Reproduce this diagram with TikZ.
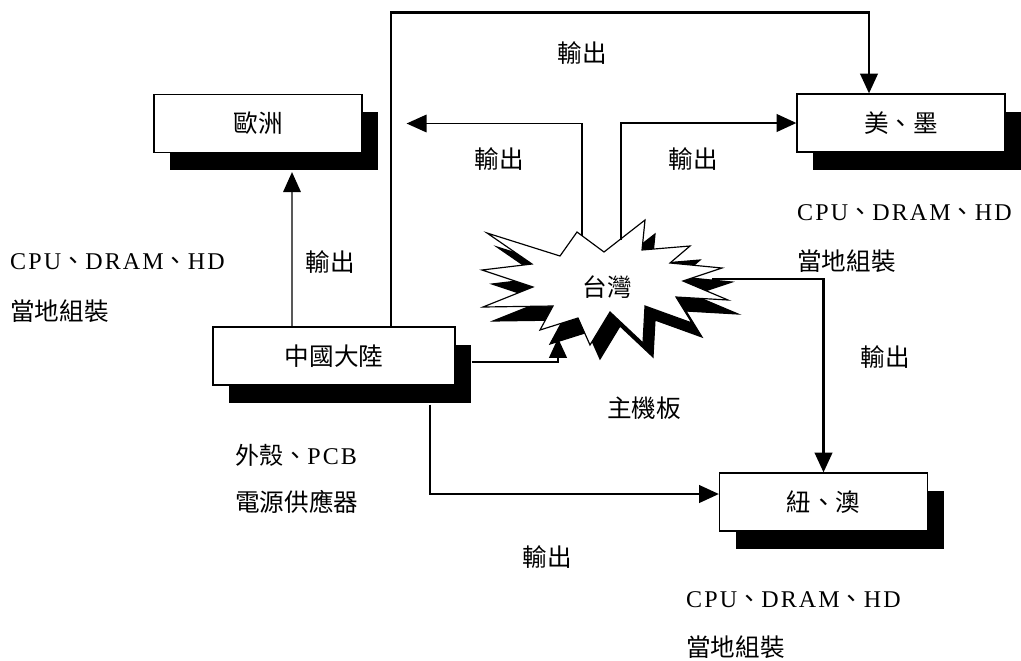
\documentclass[tikz,border=0pt]{standalone}
\usepackage{fontspec}
\setmainfont{Liberation Serif}
\newfontfamily\cjk{Noto Sans CJK TC}
\newfontfamily\latin[LetterSpace=9]{Liberation Serif}
\usetikzlibrary{arrows.meta,shadows}

\begin{document}
\begin{tikzpicture}[x=0.03cm,y=-0.03cm,>={Triangle[length=17pt,width=15pt]},
  region/.style={draw,line width=1pt,fill=white,minimum width=6.24cm,minimum height=1.74cm,
    inner sep=0pt,font=\cjk\fontsize{21}{25}\selectfont,
    drop shadow={shadow xshift=0.48cm,shadow yshift=-0.53cm,opacity=1,fill=black}},
  word/.style={font=\cjk\fontsize{21}{25}\selectfont,inner sep=0pt},
  note/.style={font=\latin\fontsize{20.5}{25}\selectfont,anchor=west,inner sep=0pt},
  thinflow/.style={->,line width=1.2pt},
  flow/.style={->,line width=2.2pt}]

\useasboundingbox (0,0) rectangle (1021,660);

% The regions
\node[region] (eu) at (258,123.5) {歐洲};
\node[region] (am) at (901,123) {美、墨};
\node[region,minimum width=7.26cm] (cn) at (334,356) {中國大陸};
\node[region] (nz) at (823.5,502) {紐、澳};

% The Taiwan burst
\foreach \dx/\dy/\col in {10/14/black,0/0/white}
{
	\filldraw[line width=1pt,fill=\col,shift={(\dx,\dy)}]
		(487,233) -- (560,256) -- (577,232) -- (604,252) -- (645,220) -- (642,250)
		-- (690,246) -- (670,263) -- (722,268) -- (683,281) -- (728,300) -- (676,297)
		-- (692,323) -- (645,306) -- (643,343) -- (610,312) -- (590,345) -- (578,318)
		-- (540,330) -- (553,306) -- (483,307) -- (533,287) -- (482,270) -- (532,264) -- cycle;
}
\node[word] (tw) at (607,287) {台灣};

\coordinate (twa) at (582,236);
\coordinate (twb) at (621,240);
\coordinate (twc) at (712,279);
\coordinate (twd) at (558,338);

% Exports from Taiwan
\draw[thinflow] (twa) |- ([xshift=1.32cm]eu.east);
\draw[flow] (twb) |- (am.west);
\draw[flow] (twc) -| (nz.north);

% Exports from China
\draw[thinflow] ([xshift=-1.26cm]cn.north) -- ([xshift=1.02cm,yshift=-0.57cm]eu.south);
\draw[flow] ([xshift=1.71cm]cn.north) -- ++(0,-314) -| ([xshift=-0.96cm]am.north);
\draw[flow] ([xshift=0.48cm,yshift=-0.18cm]cn.east) -| (twd);
\draw[flow] ([xshift=2.88cm,yshift=-0.57cm]cn.south) |- ([yshift=0.24cm]nz.west);

% Labels on the arrows
\node[word] (out1) at (582,53) {輸出};
\node[word] (out2) at (499,159) {輸出};
\node[word] (out3) at (693,159) {輸出};
\node[word] (out4) at (330,262) {輸出};
\node[word] (out5) at (885,357) {輸出};
\node[word] (out6) at (547,557) {輸出};
\node[word] (mb) at (644,408) {主機板};

% Local assembly notes
\node[note] (euparts) at (10,262) {CPU{\cjk 、}DRAM{\cjk 、}HD};
\node[word,anchor=west] (euasm) at (10,311) {當地組裝};
\node[note] (amparts) at (797,213) {CPU{\cjk 、}DRAM{\cjk 、}HD};
\node[word,anchor=west] (amasm) at (797,261) {當地組裝};
\node[note] (nzparts) at (686,600) {CPU{\cjk 、}DRAM{\cjk 、}HD};
\node[word,anchor=west] (nzasm) at (686,647) {當地組裝};
\node[note] (cnparts) at (235,455) {{\cjk 外殼、}PCB};
\node[word,anchor=west] (cnpsu) at (235,502) {電源供應器};

\end{tikzpicture}
\end{document}
